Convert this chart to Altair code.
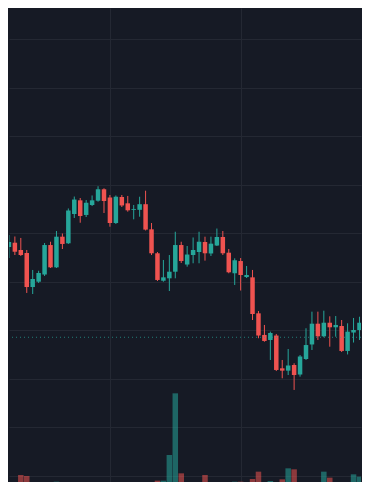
import altair as alt
import pandas as pd

# candle index (time)
idx = list(range(60))

opens = [123.59, 124.03, 123.28, 122.97, 119.46, 120.01, 120.75, 123.79, 121.49, 124.65,
         123.97, 126.99, 128.40, 126.89, 127.92, 128.36, 129.54, 128.69, 126.06, 128.74,
         128.09, 127.42, 127.42, 128.00, 125.41, 122.94, 120.11, 120.36, 121.04, 123.79,
         121.78, 122.76, 123.07, 124.10, 122.92, 123.74, 124.62, 123.00, 120.88, 122.14,
         120.49, 120.46, 116.75, 114.52, 114.00, 114.46, 111.08, 110.84, 111.42, 110.44,
         112.04, 113.54, 115.68, 114.38, 115.78, 115.31, 115.44, 112.87, 114.77, 115.03]
highs = [124.82, 124.67, 124.52, 123.28, 121.22, 121.14, 124.00, 124.13, 125.24, 124.98,
         127.56, 128.79, 128.64, 128.43, 128.90, 129.85, 129.64, 128.95, 128.90, 128.95,
         128.85, 127.92, 128.77, 129.39, 126.06, 123.07, 122.25, 122.76, 125.16, 124.13,
         123.69, 124.57, 125.16, 124.65, 124.65, 125.49, 125.24, 123.38, 122.42, 122.45,
         121.63, 121.22, 116.99, 115.55, 114.86, 114.62, 111.94, 113.07, 111.60, 112.45,
         115.21, 116.92, 116.92, 117.02, 116.44, 116.47, 116.06, 115.72, 116.27, 116.40]
lows = [122.45, 122.76, 122.66, 118.85, 118.74, 119.88, 120.60, 121.42, 121.42, 123.38,
        123.90, 126.58, 126.09, 126.68, 127.81, 128.26, 127.09, 125.68, 125.96, 127.71,
        127.23, 126.44, 126.71, 125.29, 122.76, 120.08, 120.01, 119.05, 120.36, 121.94,
        121.56, 121.91, 121.91, 122.18, 122.66, 123.69, 122.76, 120.88, 119.67, 119.10,
        120.39, 116.06, 114.18, 113.82, 111.94, 110.80, 110.05, 110.39, 108.85, 110.22,
        111.94, 112.97, 114.00, 114.28, 113.31, 114.34, 112.76, 112.51, 113.74, 114.00]
closes = [124.10, 123.10, 122.76, 119.46, 120.29, 120.91, 123.79, 121.49, 124.65, 123.90,
          127.35, 128.48, 126.78, 128.15, 128.40, 129.54, 128.33, 126.06, 128.77, 127.87,
          127.37, 127.51, 128.00, 125.38, 122.94, 120.19, 120.46, 121.04, 123.79, 122.14,
          122.81, 123.28, 124.13, 122.94, 123.93, 124.62, 122.94, 120.98, 122.22, 120.70,
          120.70, 116.68, 114.46, 113.90, 114.72, 110.91, 110.84, 111.37, 110.39, 112.30,
          113.48, 115.68, 114.38, 115.78, 115.31, 115.55, 112.87, 114.86, 115.03, 115.78]
volumes = [60, 72, 180, 168, 2, 2, 32, 2, 100, 2,
           2, 2, 2, 2, 2, 2, 2, 2, 2, 2,
           2, 2, 2, 32, 2, 112, 112, 420, 1160, 200,
           2, 2, 40, 180, 2, 2, 2, 40, 100, 100,
           2, 132, 220, 32, 108, 2, 128, 260, 248, 28,
           2, 72, 60, 220, 148, 40, 2, 60, 188, 160]

price_line = 114.28
price_grid = [100, 105, 110, 115, 120, 125, 130, 135, 140, 145]
time_grid = [17, 39]

UP, DOWN = "#26a69a", "#ef5350"
BG, GRID = "#161a25", "#242833"

df = pd.DataFrame({"i": idx, "open": opens, "high": highs, "low": lows,
                   "close": closes, "volume": volumes})
df["dir"] = ["up" if c >= o else "down" for o, c in zip(opens, closes)]

xscale = alt.Scale(domain=[0.854, 58.415], nice=False, zero=False)
yscale = alt.Scale(domain=[99.36, 148.227], nice=False, zero=False)
vscale = alt.Scale(domain=[96, 5784], nice=False, zero=False)
cscale = alt.Scale(domain=["up", "down"], range=[UP, DOWN])

xaxis = alt.Axis(values=time_grid, grid=True, gridColor=GRID, gridWidth=1,
                 labels=False, ticks=False, domain=False, title=None)
yaxis = alt.Axis(values=price_grid, grid=True, gridColor=GRID, gridWidth=1,
                 labels=False, ticks=False, domain=False, title=None)

base = alt.Chart(df)

vol = base.mark_bar(size=5.5, opacity=0.55, clip=True).encode(
    x=alt.X("i:Q", scale=xscale, axis=xaxis),
    y=alt.Y("volume:Q", scale=vscale, axis=None),
    color=alt.Color("dir:N", scale=cscale, legend=None),
)

wick = base.mark_rule(strokeWidth=1, clip=True).encode(
    x=alt.X("i:Q", scale=xscale, axis=xaxis),
    y=alt.Y("low:Q", scale=yscale, axis=yaxis),
    y2="high:Q",
    color=alt.Color("dir:N", scale=cscale, legend=None),
)

body = base.mark_bar(size=4.5, clip=True).encode(
    x=alt.X("i:Q", scale=xscale),
    y=alt.Y("open:Q", scale=yscale),
    y2="close:Q",
    color=alt.Color("dir:N", scale=cscale, legend=None),
)

pline = alt.Chart(pd.DataFrame({"p": [price_line]})).mark_rule(
    color=UP, strokeDash=[1, 3], strokeWidth=1, opacity=0.7
).encode(y=alt.Y("p:Q", scale=yscale))

price = alt.layer(wick, body, pline)

chart = alt.layer(vol, price).resolve_scale(y="independent").properties(
    width=354, height=474,
    autosize=alt.AutoSizeParams(type="fit", contains="padding"),
    padding=0,
    background=BG,
).configure_view(stroke=None)

chart.save("out.html", embed_options={"renderer": "svg", "actions": False})
